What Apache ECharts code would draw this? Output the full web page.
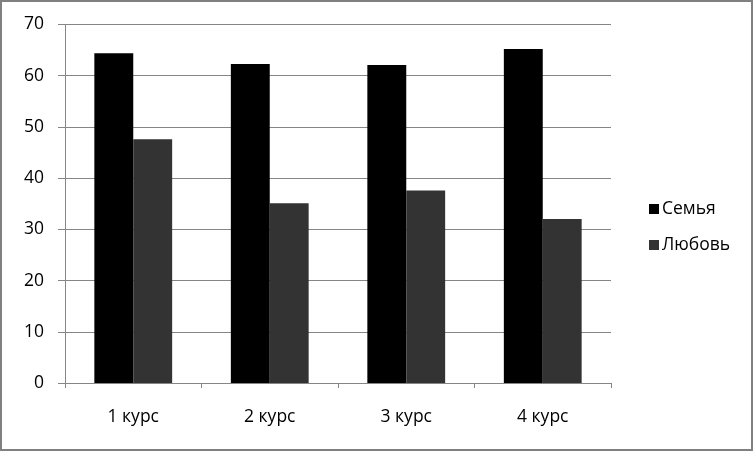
<!DOCTYPE html>
<html><head><meta charset="utf-8">
<script src="https://cdn.jsdelivr.net/npm/echarts@6/dist/echarts.min.js"></script>
<style>
html,body{margin:0;padding:0;background:#fff;}
#frame{position:absolute;left:0;top:0;width:753px;height:451px;box-sizing:border-box;border:2px solid #808080;}
#c{position:absolute;left:0;top:0;width:753px;height:451px;}
</style></head>
<body>
<div id="c"></div>
<div id="frame"></div>
<script>
const categories = ['1 курс', '2 курс', '3 курс', '4 курс'];
const family = [64.4, 62.3, 62.1, 65.2];
const love = [47.6, 35.1, 37.6, 32.0];
const seriesNames = ['Семья', 'Любовь'];
const yTicks = [0, 10, 20, 30, 40, 50, 60, 70];

const chart = echarts.init(document.getElementById('c'), null, {renderer: 'canvas'});
const font = '"Open Sans", "Noto Sans", sans-serif';
chart.setOption({
  animation: false,
  backgroundColor: '#ffffff',
  grid: {left: 65, right: 142, top: 24.5, bottom: 68, containLabel: false},
  legend: {
    orient: 'vertical', left: 644, top: 195,
    itemWidth: 10, itemHeight: 10, itemGap: 18,
    icon: 'rect',
    textStyle: {fontFamily: font, fontSize: 17.5, color: '#000', padding: [0,0,0,-2]},
    data: seriesNames
  },
  xAxis: {
    type: 'category', data: categories, boundaryGap: true,
    axisLine: {lineStyle: {color: '#868686', width: 1}},
    axisTick: {show: true, length: 5, lineStyle: {color: '#868686'}},
    axisLabel: {fontFamily: font, fontSize: 17.5, color: '#000', margin: 25}
  },
  yAxis: {
    type: 'value', min: yTicks[0], max: yTicks[yTicks.length-1], interval: 10,
    axisLine: {show: true, lineStyle: {color: '#868686', width: 1}},
    axisTick: {show: true, length: 7, lineStyle: {color: '#868686'}},
    splitLine: {show: true, lineStyle: {color: '#868686', width: 1}},
    axisLabel: {fontFamily: font, fontSize: 17.5, color: '#000', margin: 21}
  },
  series: [
    {name: seriesNames[0], type: 'bar', data: family, barGap: '0%', barCategoryGap: '43%',
     itemStyle: {color: '#000000'}},
    {name: seriesNames[1], type: 'bar', data: love, barGap: '0%', barCategoryGap: '43%',
     itemStyle: {color: '#333333'}}
  ]
});
</script>
</body></html>
